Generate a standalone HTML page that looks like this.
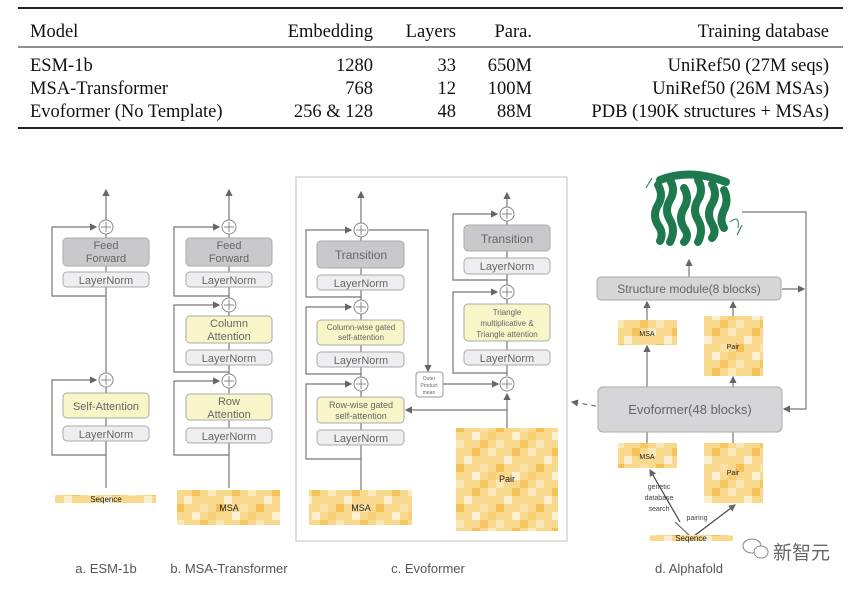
<!DOCTYPE html>
<html><head><meta charset="utf-8"><style>
html,body{margin:0;padding:0;background:#fff;}
svg{display:block;}
.t{font-family:"Liberation Serif",serif;font-size:18.5px;fill:#111;}
</style></head><body>
<svg width="864" height="592" viewBox="0 0 864 592" xmlns="http://www.w3.org/2000/svg">
<defs>
<pattern id="pt" width="40" height="40" patternUnits="userSpaceOnUse">
<rect width="40" height="40" fill="#f8d98e"/>
<rect x="0" y="0" width="8" height="8" fill="#f6c760"/>
<rect x="16" y="0" width="8" height="8" fill="#fbe8b8"/>
<rect x="8" y="8" width="8" height="8" fill="#fde9bc"/>
<rect x="32" y="8" width="8" height="8" fill="#f5c25a"/>
<rect x="24" y="16" width="8" height="8" fill="#fcefcf"/>
<rect x="0" y="24" width="8" height="8" fill="#fbe2a6"/>
<rect x="16" y="24" width="8" height="8" fill="#f4c156"/>
<rect x="8" y="32" width="8" height="8" fill="#f7cf74"/>
<rect x="32" y="32" width="8" height="8" fill="#fdf0d0"/>
</pattern>
<marker id="ar" markerWidth="6" markerHeight="6" refX="5" refY="3" orient="auto"><path d="M0,0 L6,3 L0,6z" fill="#666"/></marker>
<g id="pl"><circle cx="0" cy="0" r="7" fill="#fff" stroke="#888"/><path d="M-5,0H5M0,-5V5" stroke="#888"/></g>
</defs>
<line x1="18" y1="8" x2="843" y2="8" stroke="#222" stroke-width="2"/>
<line x1="18" y1="47" x2="843" y2="47" stroke="#222" stroke-width="1"/>
<line x1="18" y1="128" x2="843" y2="128" stroke="#222" stroke-width="2"/>
<text class="t" x="30" y="37">Model</text>
<text class="t" x="373" y="37" text-anchor="end">Embedding</text>
<text class="t" x="456" y="37" text-anchor="end">Layers</text>
<text class="t" x="532" y="37" text-anchor="end">Para.</text>
<text class="t" x="829" y="37" text-anchor="end">Training database</text>
<text class="t" x="30" y="71">ESM-1b</text><text class="t" x="373" y="71" text-anchor="end">1280</text><text class="t" x="456" y="71" text-anchor="end">33</text><text class="t" x="532" y="71" text-anchor="end">650M</text><text class="t" x="829" y="71" text-anchor="end">UniRef50 (27M seqs)</text>
<text class="t" x="30" y="94">MSA-Transformer</text><text class="t" x="373" y="94" text-anchor="end">768</text><text class="t" x="456" y="94" text-anchor="end">12</text><text class="t" x="532" y="94" text-anchor="end">100M</text><text class="t" x="829" y="94" text-anchor="end">UniRef50 (26M MSAs)</text>
<text class="t" x="30" y="117">Evoformer (No Template)</text><text class="t" x="373" y="117" text-anchor="end">256 &amp; 128</text><text class="t" x="456" y="117" text-anchor="end">48</text><text class="t" x="532" y="117" text-anchor="end">88M</text><text class="t" x="829" y="117" text-anchor="end">PDB (190K structures + MSAs)</text>

<g stroke="#777" stroke-width="1.2" fill="none">
<line x1="106" y1="488" x2="106" y2="190" marker-end="url(#ar)"/>
<polyline points="106,296 52,296 52,227 96,227" marker-end="url(#ar)"/>
<polyline points="106,455 52,455 52,380 96,380" marker-end="url(#ar)"/>
<line x1="229" y1="488" x2="229" y2="190" marker-end="url(#ar)"/>
<polyline points="229,296 174,296 174,227 219,227" marker-end="url(#ar)"/>
<polyline points="229,372 174,372 174,305 219,305" marker-end="url(#ar)"/>
<polyline points="229,455 174,455 174,381 219,381" marker-end="url(#ar)"/>
<rect x="296" y="177" width="271" height="364" stroke="#ccc"/>
<line x1="361" y1="490" x2="361" y2="192" marker-end="url(#ar)"/>
<polyline points="361,297 306,297 306,230 351,230" marker-end="url(#ar)"/>
<polyline points="361,374 306,374 306,307 351,307" marker-end="url(#ar)"/>
<polyline points="361,459 306,459 306,384 351,384" marker-end="url(#ar)"/>
<polyline points="369,230 428,230 428,371" marker-end="url(#ar)"/>
<line x1="443" y1="384" x2="498" y2="384" marker-end="url(#ar)"/>
<line x1="507" y1="428" x2="507" y2="394" marker-end="url(#ar)"/>
<line x1="507" y1="410" x2="406" y2="410" marker-end="url(#ar)"/>
<line x1="507" y1="376" x2="507" y2="193" marker-end="url(#ar)"/>
<polyline points="507,280 453,280 453,214 497,214" marker-end="url(#ar)"/>
<polyline points="507,373 453,373 453,292 497,292" marker-end="url(#ar)"/>
<line x1="647" y1="387" x2="647" y2="346" marker-end="url(#ar)"/>
<line x1="647" y1="320" x2="647" y2="302" marker-end="url(#ar)"/>
<line x1="733" y1="387" x2="733" y2="377" marker-end="url(#ar)"/>
<line x1="733" y1="316" x2="733" y2="302" marker-end="url(#ar)"/>
<line x1="689" y1="277" x2="689" y2="260" marker-end="url(#ar)"/>
<line x1="647" y1="432" x2="647" y2="443"/>
<line x1="733" y1="432" x2="733" y2="443"/>
<polyline points="742,212 806,212 806,409 784,409" marker-end="url(#ar)"/>
<line x1="782" y1="289" x2="804" y2="289" marker-end="url(#ar)"/>
<line x1="596" y1="406" x2="572" y2="402" stroke-dasharray="5,4" marker-end="url(#ar)"/>
<line x1="690" y1="536" x2="675" y2="522"/>
<line x1="680" y1="522" x2="650" y2="470" marker-end="url(#ar)" stroke="#444"/>
<line x1="694" y1="536" x2="735" y2="505" stroke="#444" marker-end="url(#ar)"/>
</g>

<g font-family="Liberation Sans,sans-serif" text-anchor="middle" fill="#666">
<rect x="63" y="238" width="86" height="28" rx="4" fill="#c9c9cc" stroke="#aaa"/>
<text x="106" y="249" font-size="11">Feed</text><text x="106" y="262" font-size="11">Forward</text>
<rect x="63" y="272" width="86" height="15" rx="4" fill="#eeeef0" stroke="#aaa"/><text x="106" y="284" font-size="11">LayerNorm</text>
<rect x="63" y="393" width="86" height="25" rx="4" fill="#f8f6c8" stroke="#aaa"/><text x="106" y="410" font-size="11">Self-Attention</text>
<rect x="63" y="426" width="86" height="15" rx="4" fill="#eeeef0" stroke="#aaa"/><text x="106" y="438" font-size="11">LayerNorm</text>
<rect x="186" y="238" width="86" height="28" rx="4" fill="#c9c9cc" stroke="#aaa"/>
<text x="229" y="249" font-size="11">Feed</text><text x="229" y="262" font-size="11">Forward</text>
<rect x="186" y="272" width="86" height="15" rx="4" fill="#eeeef0" stroke="#aaa"/><text x="229" y="284" font-size="11">LayerNorm</text>
<rect x="186" y="316" width="86" height="27" rx="4" fill="#f8f6c8" stroke="#aaa"/><text x="229" y="327" font-size="11">Column</text><text x="229" y="340" font-size="11">Attention</text>
<rect x="186" y="350" width="86" height="15" rx="4" fill="#eeeef0" stroke="#aaa"/><text x="229" y="362" font-size="11">LayerNorm</text>
<rect x="186" y="394" width="86" height="26" rx="4" fill="#f8f6c8" stroke="#aaa"/><text x="229" y="405" font-size="11">Row</text><text x="229" y="418" font-size="11">Attention</text>
<rect x="186" y="428" width="86" height="15" rx="4" fill="#eeeef0" stroke="#aaa"/><text x="229" y="440" font-size="11">LayerNorm</text>
<rect x="317" y="241" width="87" height="27" rx="4" fill="#c9c9cc" stroke="#aaa"/><text x="361" y="259" font-size="12">Transition</text>
<rect x="317" y="275" width="87" height="15" rx="4" fill="#eeeef0" stroke="#aaa"/><text x="361" y="287" font-size="11">LayerNorm</text>
<rect x="317" y="320" width="87" height="25" rx="4" fill="#f8f6c8" stroke="#aaa"/><text x="361" y="330" font-size="8">Column-wise gated</text><text x="361" y="340" font-size="8">self-attention</text>
<rect x="317" y="352" width="87" height="15" rx="4" fill="#eeeef0" stroke="#aaa"/><text x="361" y="364" font-size="11">LayerNorm</text>
<rect x="317" y="397" width="87" height="26" rx="4" fill="#f8f6c8" stroke="#aaa"/><text x="361" y="408" font-size="9">Row-wise gated</text><text x="361" y="419" font-size="9">self-attention</text>
<rect x="317" y="430" width="87" height="15" rx="4" fill="#eeeef0" stroke="#aaa"/><text x="361" y="442" font-size="11">LayerNorm</text>
<rect x="464" y="225" width="86" height="26" rx="4" fill="#c9c9cc" stroke="#aaa"/><text x="507" y="243" font-size="12">Transition</text>
<rect x="464" y="258" width="86" height="16" rx="4" fill="#eeeef0" stroke="#aaa"/><text x="507" y="270" font-size="11">LayerNorm</text>
<rect x="464" y="304" width="86" height="37" rx="4" fill="#f8f6c8" stroke="#aaa"/><text x="507" y="315" font-size="8">Triangle</text><text x="507" y="326" font-size="8">multiplicative &amp;</text><text x="507" y="337" font-size="8">Triangle attention</text>
<rect x="464" y="350" width="86" height="15" rx="4" fill="#eeeef0" stroke="#aaa"/><text x="507" y="362" font-size="11">LayerNorm</text>
<rect x="416" y="372" width="27" height="25" rx="3" fill="#fff" stroke="#999"/><text x="429" y="380" font-size="5">Outer</text><text x="429" y="387" font-size="5">Product</text><text x="429" y="394" font-size="5">mean</text>
<rect x="597" y="277" width="184" height="23" rx="4" fill="#d6d6d8" stroke="#aaa"/><text x="689" y="293" font-size="12">Structure module(8 blocks)</text>
<rect x="598" y="387" width="184" height="45" rx="5" fill="#d6d6d8" stroke="#aaa"/><text x="690" y="414" font-size="13">Evoformer(48 blocks)</text>
</g>
<use href="#pl" x="106" y="227"/><use href="#pl" x="106" y="380"/>
<use href="#pl" x="229" y="227"/><use href="#pl" x="229" y="305"/><use href="#pl" x="229" y="381"/>
<use href="#pl" x="361" y="230"/><use href="#pl" x="361" y="307"/><use href="#pl" x="361" y="384"/>
<use href="#pl" x="507" y="214"/><use href="#pl" x="507" y="292"/><use href="#pl" x="507" y="384"/>
<g font-family="Liberation Sans,sans-serif" font-size="9" text-anchor="middle" fill="#222">
<rect x="55" y="495" width="101" height="8" fill="url(#pt)"/><text x="106" y="502" font-size="8">Seqence</text>
<rect x="177" y="490" width="103" height="35" fill="url(#pt)"/><text x="229" y="511">MSA</text>
<rect x="309" y="490" width="103" height="35" fill="url(#pt)"/><text x="361" y="511">MSA</text>
<rect x="456" y="428" width="102" height="103" fill="url(#pt)"/><text x="507" y="482">Pair</text>
<rect x="618" y="320" width="59" height="25" fill="url(#pt)"/><text x="647" y="336" font-size="7">MSA</text>
<rect x="704" y="316" width="59" height="60" fill="url(#pt)"/><text x="733" y="349" font-size="7">Pair</text>
<rect x="618" y="443" width="59" height="25" fill="url(#pt)"/><text x="647" y="459" font-size="7">MSA</text>
<rect x="704" y="443" width="59" height="60" fill="url(#pt)"/><text x="733" y="475" font-size="7">Pair</text>
<rect x="650" y="535" width="83" height="6" fill="url(#pt)"/><text x="691" y="541" font-size="8">Seqence</text>
<g fill="#444" font-size="7"><text x="659" y="489">genetic</text><text x="659" y="500">database</text><text x="659" y="511">search</text><text x="697" y="520">pairing</text></g>
</g>
<g fill="none" stroke="#1e7a4e" stroke-width="8" stroke-linecap="round">
<path d="M658,185 q6,10 0,20 q-6,10 0,20 q6,8 2,16"/>
<path d="M670,180 q6,10 0,20 q-6,10 0,20 q6,10 0,22"/>
<path d="M684,188 q6,10 0,20 q-6,10 0,20 q6,8 0,14"/>
<path d="M698,180 q6,10 0,20 q-6,10 0,20 q6,10 0,22"/>
<path d="M712,184 q6,10 0,20 q-6,10 0,20 q5,8 0,14"/>
<path d="M724,190 q5,10 0,20 q-5,10 0,18"/>
<path d="M660,180 q30,-12 66,2"/>
</g>
<path d="M730,222 q10,-8 8,6 M742,225 l-5,10 M652,178 l-6,10" stroke="#1e7a4e" fill="none"/>
<g font-family="Liberation Sans,sans-serif" font-size="13" fill="#555" text-anchor="middle">
<text x="106" y="573">a. ESM-1b</text><text x="229" y="573">b. MSA-Transformer</text>
<text x="428" y="573">c. Evoformer</text><text x="689" y="573">d. Alphafold</text>
</g>
<g stroke="#888" fill="#fff"><ellipse cx="752" cy="546" rx="9" ry="7"/><ellipse cx="761" cy="552" rx="7" ry="6"/></g>
<text x="773" y="559" font-family="Liberation Sans,'Noto Sans CJK SC',sans-serif" font-size="19" fill="#666">新智元</text>
</svg>
</body></html>
